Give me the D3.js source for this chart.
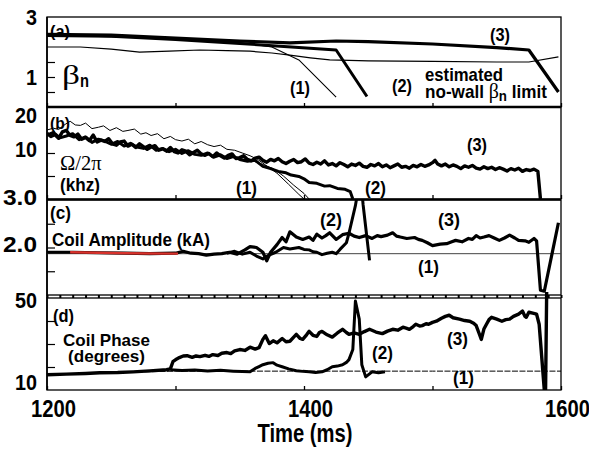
<!DOCTYPE html>
<html>
<head>
<meta charset="utf-8">
<script src="https://cdn.jsdelivr.net/npm/d3@7"></script>
<style>
  body { margin: 0; background: #fff; }
  svg { display: block; }
  text { font-family: "Liberation Sans", Arial, sans-serif; font-weight: bold; fill: #000; }
  .serif { font-family: "Liberation Serif", "Times New Roman", serif; font-weight: normal; }
</style>
</head>
<body>
<script>
// ---- data (time in ms, value in panel units) ----
const xTicks = [1200, 1400, 1600];

// (a) beta_n
const betaMeas = [[1200,2.0],[1226,2.0],[1250,1.93],[1272,1.83],[1295,1.86],[1319,1.9],[1340,1.88],[1358,1.86],[1375,1.8],[1389,1.73],[1405,1.64],[1420,1.57],[1450,1.54],[1500,1.52],[1550,1.5],[1575,1.5],[1598,1.67]];
const limit1 = [[1200,2.4],[1300,2.28],[1350,2.15],[1375,2.0],[1396,1.57],[1425,0.33]];
const limit2 = [[1200,2.38],[1250,2.36],[1300,2.25],[1350,2.12],[1396,1.98],[1425,1.9],[1449,0.35]];
const limit3 = [[1200,2.42],[1250,2.4],[1300,2.3],[1350,2.2],[1389,2.14],[1425,2.2],[1450,2.18],[1500,2.1],[1550,1.98],[1575,1.9],[1598,0.5]];

// (b) rotation, khz
const rot1a = [[1200,15.0],[1205,15.4],[1209,15.1],[1214,16.2],[1218,16.9],[1222,16.1],[1226,16.0],[1230,16.5],[1235,15.3],[1240,15.6],[1244,15.9],[1249,14.9],[1254,15.5],[1259,14.7],[1263,14.9],[1268,15.2],[1273,14.1],[1277,14.4],[1281,13.8],[1286,14.2],[1291,13.1],[1296,13.6],[1300,12.9],[1305,12.6],[1310,13.0],[1315,12.0],[1320,12.5],[1325,11.8],[1330,11.4],[1335,11.7],[1340,10.8],[1346,10.6],[1352,10.0],[1358,9.4],[1364,8.6],[1370,7.4],[1379,5.6],[1388,3.2],[1396,1.0],[1400,0]];
const rot1b = [[1330,9.5],[1340,9.2],[1350,8.8],[1360,8.3],[1368,7.5],[1376,6.6],[1384,5.0],[1392,3.0],[1400,1.2],[1404,0]];
const rot2 = [[1200,13.9],[1205,14.5],[1210,13.3],[1215,13.7],[1220,14.2],[1225,12.9],[1230,13.5],[1235,12.3],[1240,13.0],[1245,12.6],[1250,11.9],[1255,12.5],[1260,11.5],[1265,12.1],[1270,11.3],[1275,11.0],[1280,11.7],[1285,10.6],[1290,11.0],[1295,10.3],[1300,10.8],[1305,9.9],[1310,10.5],[1315,9.7],[1320,9.5],[1325,10.0],[1330,9.1],[1335,9.6],[1340,8.8],[1345,9.2],[1350,8.6],[1356,8.2],[1362,8.4],[1368,7.1],[1374,6.6],[1380,6.0],[1386,5.7],[1390,5.2],[1396,4.9],[1400,4.4],[1404,3.6],[1410,3.4],[1416,2.8],[1420,2.9],[1426,2.3],[1432,2.1],[1436,1.6],[1438,0]];
const rot3 = [[1200,14.3],[1203,13.6],[1206,14.0],[1209,13.2],[1212,14.6],[1215,14.9],[1218,13.8],[1221,13.5],[1224,14.1],[1227,13.0],[1230,13.4],[1233,12.7],[1236,13.9],[1239,12.4],[1242,12.8],[1245,12.5],[1248,13.1],[1251,12.0],[1254,11.7],[1257,12.4],[1260,12.6],[1263,11.5],[1266,11.9],[1269,11.2],[1272,12.0],[1275,11.4],[1278,10.8],[1281,11.3],[1284,11.6],[1287,10.6],[1290,10.9],[1293,10.4],[1296,11.2],[1299,10.3],[1302,10.0],[1305,10.7],[1308,10.4],[1311,9.6],[1314,10.1],[1317,10.6],[1320,9.8],[1323,9.5],[1326,9.9],[1329,9.2],[1332,10.0],[1335,9.4],[1338,8.9],[1341,9.5],[1344,9.8],[1347,8.8],[1350,9.0],[1353,9.4],[1356,8.6],[1359,8.3],[1362,8.9],[1365,9.1],[1368,8.4],[1371,8.0],[1374,8.6],[1377,8.3],[1380,8.8],[1383,8.1],[1386,7.7],[1389,8.2],[1392,8.6],[1395,7.9],[1398,8.1],[1401,8.7],[1404,7.8],[1407,7.5],[1410,8.0],[1413,7.6],[1416,8.3],[1419,7.4],[1422,7.7],[1425,7.2],[1428,7.9],[1431,7.5],[1434,7.0],[1437,7.6],[1440,7.3],[1443,7.8],[1446,7.1],[1449,6.9],[1452,7.5],[1455,7.2],[1458,7.7],[1461,7.0],[1464,7.4],[1467,6.8],[1470,7.2],[1473,7.6],[1476,6.9],[1479,7.1],[1482,6.7],[1485,7.3],[1488,7.0],[1491,7.5],[1494,7.1],[1497,7.4],[1500,7.9],[1502,8.4],[1504,7.6],[1507,7.2],[1510,7.6],[1513,7.0],[1516,7.4],[1519,7.1],[1522,6.6],[1525,7.2],[1528,6.9],[1531,7.3],[1534,6.7],[1537,6.5],[1540,7.0],[1543,6.6],[1546,6.9],[1549,6.4],[1552,6.8],[1555,6.5],[1558,6.1],[1561,6.6],[1564,6.3],[1567,6.7],[1570,6.0],[1573,6.4],[1576,6.2],[1579,6.5],[1582,6.0],[1584,0]];

// (c) coil amplitude, kA
const amp1 = [[1200,1.87],[1600,1.87]];
const ampRed = [[1218,1.9],[1240,1.89],[1260,1.88],[1280,1.875],[1302,1.87]];
const amp2 = [[1340,1.88],[1346,1.92],[1352,1.86],[1358,1.9],[1363,1.82],[1368,1.76],[1372,1.83],[1378,1.9],[1384,2.0],[1389,1.97],[1396,2.0],[1400,1.96],[1404,1.95],[1407,1.91],[1410,1.9],[1414,1.85],[1418,1.88],[1422,1.9],[1425,1.87],[1428,1.96],[1433,2.1],[1435,2.3],[1440,2.88],[1442,3.2],[1445,3.2],[1446,2.9],[1451,1.73]];
const amp3 = [[1200,1.9],[1220,1.9],[1240,1.89],[1260,1.88],[1280,1.87],[1300,1.88],[1306,1.92],[1312,1.88],[1318,1.87],[1324,1.84],[1330,1.86],[1336,1.87],[1342,1.9],[1348,1.86],[1354,1.95],[1358,2.02],[1363,2.0],[1368,1.9],[1371,1.72],[1374,1.9],[1379,2.06],[1383,2.21],[1386,2.12],[1389,2.33],[1394,2.22],[1399,2.17],[1404,2.22],[1407,2.15],[1410,2.28],[1414,2.2],[1417,2.25],[1420,2.31],[1425,2.17],[1430,2.27],[1435,2.3],[1439,2.24],[1443,2.21],[1448,2.25],[1453,2.19],[1457,2.25],[1460,2.23],[1465,2.26],[1469,2.31],[1472,2.24],[1475,2.22],[1480,2.19],[1486,2.21],[1489,2.17],[1492,2.15],[1496,2.1],[1500,2.04],[1506,2.07],[1511,2.08],[1515,2.12],[1518,2.15],[1523,2.12],[1528,2.19],[1531,2.17],[1534,2.25],[1537,2.2],[1540,2.22],[1544,2.25],[1548,2.2],[1552,2.15],[1556,2.2],[1560,2.26],[1564,2.2],[1567,2.15],[1572,2.14],[1575,2.11],[1579,2.19],[1581,2.14],[1584,1.1],[1587,1.08],[1598,2.52]];

// (d) coil phase, degrees
const phase1 = [[1200,16.8],[1250,17.6],[1300,18.2],[1400,18.2],[1500,18.2],[1600,18.2]];
const phase2 = [[1296,18.8],[1305,18.5],[1315,18.7],[1325,18.3],[1335,18.6],[1345,18.2],[1352,18.0],[1358,17.9],[1362,19.4],[1365,20.2],[1368,21.0],[1372,21.6],[1376,21.9],[1379,20.8],[1383,20.1],[1388,19.2],[1394,18.4],[1399,18.1],[1404,17.9],[1409,17.6],[1414,17.9],[1418,18.8],[1422,20.1],[1426,20.4],[1430,21.0],[1433,22.0],[1435,23.2],[1438,27.6],[1440,48.7],[1443,40.8],[1445,21.0],[1448,15.7],[1453,17.9],[1458,17.5],[1463,17.9]];
const phase3 = [[1200,16.6],[1215,16.9],[1230,17.2],[1241,17.5],[1255,17.6],[1267,17.9],[1280,18.3],[1293,18.8],[1296,19.2],[1298,22.3],[1301,23.5],[1303,24.1],[1306,24.8],[1309,24.9],[1313,24.2],[1316,24.8],[1319,24.5],[1323,25.1],[1326,24.6],[1329,25.4],[1333,25.0],[1336,26.0],[1340,26.3],[1343,25.8],[1346,27.0],[1350,27.6],[1354,27.2],[1358,28.6],[1362,27.8],[1365,28.4],[1368,32.0],[1370,33.6],[1373,30.2],[1376,31.4],[1379,30.5],[1383,32.4],[1386,31.0],[1389,31.2],[1392,33.0],[1394,34.2],[1397,32.4],[1399,32.0],[1402,34.0],[1404,35.5],[1407,33.8],[1410,33.3],[1412,35.0],[1414,35.5],[1418,34.0],[1422,33.0],[1426,34.8],[1430,36.4],[1433,35.0],[1435,34.2],[1439,34.8],[1443,34.2],[1447,35.4],[1451,36.4],[1456,35.2],[1461,34.5],[1465,35.6],[1469,36.4],[1473,36.0],[1477,37.3],[1480,36.8],[1482,36.4],[1485,37.6],[1487,38.6],[1490,37.8],[1492,38.0],[1495,38.8],[1497,38.6],[1500,39.4],[1503,39.9],[1507,41.2],[1510,42.0],[1513,42.5],[1516,41.4],[1521,40.8],[1525,40.2],[1529,39.9],[1532,39.0],[1534,38.0],[1536,35.0],[1538,32.0],[1540,36.5],[1542,38.6],[1544,40.6],[1546,41.6],[1550,40.8],[1554,39.9],[1557,40.6],[1560,40.8],[1563,42.0],[1567,43.0],[1570,44.3],[1572,42.0],[1573,41.6],[1575,43.8],[1578,43.4],[1581,43.0],[1583,38.6],[1587,10.0],[1588,10.3],[1589,60]];

// ---- layout ----
const W = 589, H = 452;
const left = 47, right = 561;
const x = d3.scaleLinear([1200, 1600], [left, right]);

const svg = d3.select('body').append('svg').attr('width', W).attr('height', H);

// squeeze a text horizontally to a width (font there is condensed)
function fit(node, width) {
  const b = node.getBBox();
  const anchor = node.getAttribute('text-anchor') || getComputedStyle(node).textAnchor;
  const cx = anchor === 'middle' ? b.x + b.width / 2 : anchor === 'end' ? b.x + b.width : b.x;
  const s = width / b.width;
  node.setAttribute('transform', `translate(${cx},0) scale(${s},1) translate(${-cx},0)`);
}

const panels = [
  {id:'a', y:d3.scaleLinear([0,3],[107,17]), labels:[3,1], fmt:d3.format('d'), inner:[0.5,1,1.5], shift:{}},
  {id:'b', y:d3.scaleLinear([0,20],[199,107]), labels:[20,10], fmt:d3.format('d'), inner:[5,10], shift:{20:8, 10:-4}},
  {id:'c', y:d3.scaleLinear([1,3],[295,200]), labels:[3,2], fmt:d3.format('.1f'), inner:[1.5,2,2.5], shift:{3:-3, 2:-4}},
  {id:'d', y:d3.scaleLinear([10,50],[390,298]), labels:[50,10], fmt:d3.format('d'), inner:[20,30,40], shift:{50:2, 10:-8}}
];
const P = {};
panels.forEach(p => P[p.id] = p);

const defs = svg.append('defs');
panels.forEach(p => {
  const [y1, y0] = p.y.range();
  const top = p.id === 'd' ? y0 - 6 : y0;
  defs.append('clipPath').attr('id', 'clip-' + p.id)
    .append('rect').attr('x', left).attr('y', top)
    .attr('width', right - left).attr('height', y1 - top);
});

panels.forEach(p => {
  const [y1, y0] = p.y.range();
  svg.append('rect').attr('x', left).attr('y', y0).attr('width', right - left).attr('height', y1 - y0)
    .attr('fill', 'none').attr('stroke', '#000').attr('stroke-width', 1.3);

  // inner y ticks
  const inner = svg.append('g').attr('transform', `translate(${left},0)`)
    .call(d3.axisRight(p.y).tickValues(p.inner).tickSize(8).tickFormat(''));
  inner.select('.domain').remove();
  inner.selectAll('line').attr('stroke', '#000').attr('stroke-width', 1.2);

  // y tick labels
  const lab = svg.append('g').attr('transform', `translate(${left},0)`)
    .call(d3.axisLeft(p.y).tickValues(p.labels).tickSize(0).tickPadding(10).tickFormat(p.fmt));
  lab.select('.domain').remove();
  lab.selectAll('text').attr('font-size', 22).attr('font-family', null)
    .attr('dy', d => (0.36 * 22 + (p.shift[d] || 0)) + 'px')
    .each(function(d) { fit(this, String(p.fmt(d)).length === 3 ? 34 : (d < 10 ? 11 : 22)); });

  // bottom ticks every 100 ms (every 10 ms under panel c)
  const step = p.id === 'c' ? 10 : 100;
  const bt = svg.append('g').attr('transform', `translate(0,${y1})`)
    .call((p.id === 'c' ? d3.axisBottom(x) : d3.axisTop(x))
      .tickValues(d3.range(1200, 1601, step)).tickSize(p.id === 'c' ? 3 : 4).tickFormat(''));
  bt.select('.domain').remove();
  bt.selectAll('line').attr('stroke', '#000').attr('stroke-width', p.id === 'c' ? 2 : 1.3);
});

// heavier separators
svg.append('line').attr('x1', left).attr('x2', right).attr('y1', 107).attr('y2', 107)
  .attr('stroke', '#000').attr('stroke-width', 2.6);
svg.append('line').attr('x1', left).attr('x2', right).attr('y1', 199.5).attr('y2', 199.5)
  .attr('stroke', '#000').attr('stroke-width', 2);
svg.append('line').attr('x1', left).attr('x2', left).attr('y1', 17).attr('y2', 390)
  .attr('stroke', '#000').attr('stroke-width', 1.6);

// x axis labels
const xa = svg.append('g').attr('transform', 'translate(0,399)')
  .call(d3.axisBottom(x).tickValues(xTicks).tickSize(0).tickPadding(0).tickFormat(d3.format('d')));
xa.select('.domain').remove();
xa.selectAll('text').attr('font-size', 24).attr('dx', 6).attr('dy', '0.76em').attr('font-family', null)
  .each(function() { fit(this, 45); });

// traces
function trace(p, data, opt) {
  const line = d3.line().x(d => x(d[0])).y(d => P[p].y(d[1]));
  svg.append('path').datum(data).attr('d', line)
    .attr('clip-path', `url(#clip-${p})`)
    .attr('fill', 'none').attr('stroke', opt.color || '#000')
    .attr('stroke-width', opt.w).attr('stroke-linejoin', 'round')
    .attr('stroke-dasharray', opt.dash || null);
}

trace('a', betaMeas, {w:1.2});
trace('a', limit1, {w:1.1});
trace('a', limit2, {w:3});
trace('a', limit3, {w:3.2});

trace('b', rot1a, {w:1});
trace('b', rot3, {w:3.4});
trace('b', rot2, {w:3});
trace('b', rot1b, {w:1});

trace('c', amp1, {w:1, color:'#444'});
trace('c', amp3, {w:3.2});
trace('c', amp2, {w:3});
trace('c', ampRed, {w:2.4, color:'#d8322c'});

trace('d', phase1, {w:1, dash:'6,1.5'});
trace('d', phase2, {w:3});
trace('d', phase3, {w:3.4});

// annotations
function label(txt, px, py, size, width, cls) {
  const t = svg.append('text').attr('x', px).attr('y', py).attr('font-size', size)
    .attr('class', cls || null).text(txt);
  if (width) fit(t.node(), width);
  return t;
}
label('(a)', 50, 37, 16, 20);
label('β', 62, 84, 27, 18, 'serif');
label('n', 80, 87, 18, 9);
label('(1)', 290, 94, 19, 20);
label('(2)', 392, 92, 19, 20);
label('(3)', 490, 41, 19, 20);
label('estimated', 425, 81, 18, 78);
const nw = svg.append('text').attr('x', 425).attr('y', 98).attr('font-size', 18).text('no-wall ');
nw.append('tspan').attr('class', 'serif').attr('font-size', 21).text('β');
nw.append('tspan').attr('dy', 3).attr('font-size', 14).text('n');
nw.append('tspan').attr('dy', -3).text(' limit');
fit(nw.node(), 122);

label('(b)', 50, 129, 16, 20);
label('Ω/2π', 60, 170, 21, 42, 'serif');
label('(khz)', 60, 191, 18, 40);
label('(1)', 236, 194, 19, 21);
label('(2)', 365, 194, 19, 21);
label('(3)', 467, 151, 19, 20);

label('(c)', 50, 219, 18, 21);
label('Coil Amplitude (kA)', 52, 246, 18, 158);
label('(2)', 320, 226, 19, 22);
label('(3)', 438, 226, 19, 22);
label('(1)', 418, 273, 19, 21);

label('(d)', 53, 322, 18, 21);
label('Coil Phase', 63, 346, 17, 87);
label('(degrees)', 68, 362, 17, 77);
label('(2)', 372, 359, 19, 21);
label('(3)', 447, 345, 19, 21);
label('(1)', 453, 384, 19, 21);

label('Time (ms)', 305, 442, 25, 95).attr('text-anchor', 'middle');
fit(svg.select('text:last-of-type').node(), 95);
</script>
</body>
</html>
